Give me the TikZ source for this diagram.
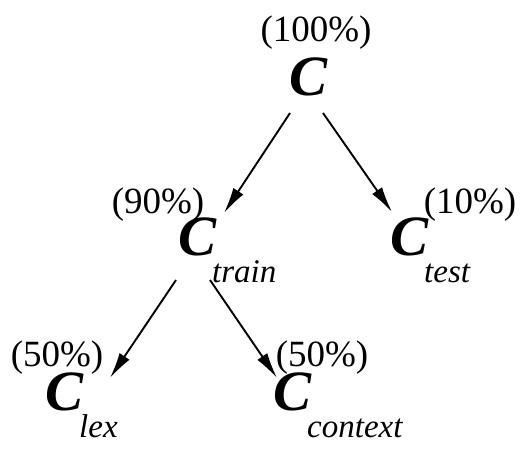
\documentclass[tikz,border=0pt]{standalone}
\usepackage{fontspec}
\setmainfont{Liberation Serif}
\usetikzlibrary{arrows.meta,calc}
\newcommand{\bigC}{{\fontsize{57}{57}\selectfont\bfseries\itshape C}}
\newcommand{\subtxt}[1]{\hspace{-4pt}\raisebox{-27pt}{\fontsize{33}{33}\selectfont\itshape #1}}
\begin{document}
\begin{tikzpicture}[x=1pt,y=1pt,
  setname/.style={inner sep=0pt,anchor=base west},
  pct/.style={inner sep=0pt,anchor=base,font=\fontsize{37}{40}\selectfont},
  arr/.style={line width=1.9pt,-{Latex[length=26pt,width=12pt]}}]
\useasboundingbox (0,0) rectangle (526,-448);
\node[pct] (p100) at (316,-41) {(100\%)};
\node[setname] (c) at (289,-95) {\bigC};
\node[pct] (p90) at (158,-213) {(90\%)};
\node[pct] (p10) at (470,-213) {(10\%)};
\node[setname] (ctrain) at (178,-255) {\bigC\subtxt{train}};
\node[setname] (ctest) at (390,-255) {\bigC\subtxt{test}};
\node[pct] (p50l) at (57,-366) {(50\%)};
\node[pct] (p50r) at (322,-366) {(50\%)};
\node[setname] (clex) at (45,-410) {\bigC\subtxt{lex}};
\node[setname] (ccontext) at (273,-410) {\bigC\subtxt{context}};
\draw[arr] ($(c.base west)+(1,-18)$) -- ($(ctrain.base west)+(46,42)$);
\draw[arr] ($(c.base west)+(34,-18)$) -- ($(ctest.base west)+(2,43)$);
\draw[arr] ($(ctrain.base west)+(-2,-25)$) -- ($(clex.base west)+(65,32)$);
\draw[arr] ($(ctrain.base west)+(32,-25)$) -- ($(ccontext.base west)+(4,32)$);
\end{tikzpicture}
\end{document}
